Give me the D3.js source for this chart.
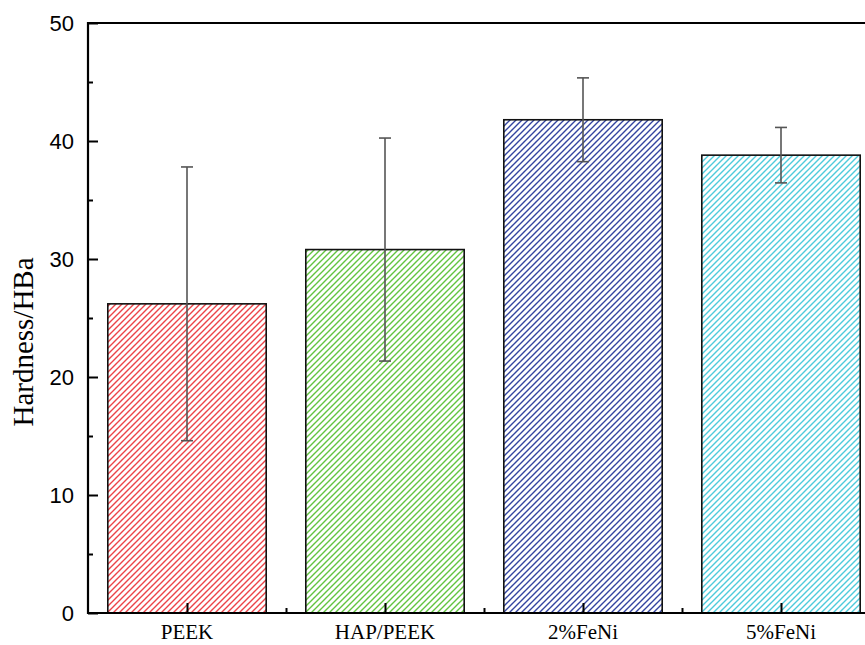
<!DOCTYPE html>
<html>
<head>
<meta charset="utf-8">
<script src="https://cdn.jsdelivr.net/npm/d3@7"></script>
<style>
  html, body { margin: 0; padding: 0; background: #fff; overflow: hidden; }
  svg { display: block; }
  .serif { font-family: "Liberation Serif", "Times New Roman", serif; }
  .sans { font-family: "Liberation Sans", Arial, sans-serif; }
</style>
</head>
<body>
<svg id="chart" width="865" height="645"></svg>
<script>
// Hardness of the four samples (mean and standard deviation)
const categories = ["PEEK", "HAP/PEEK", "2%FeNi", "5%FeNi"];
const hardness   = [26.2, 30.8, 41.8, 38.8];
const errors     = [11.6, 9.45, 3.55, 2.35];
const colors     = ["#ec4348", "#62c440", "#33449f", "#4ecbdb"];
const yTicks     = [0, 10, 20, 30, 40, 50];
const yMinor     = [5, 15, 25, 35, 45];

const svg = d3.select("#chart");
const margin = { left: 88, top: 23, bottom: 613 };

// x: category index scale; the frame runs slightly past the right edge
const x = d3.scaleLinear().domain([0.5, 4.5]).range([margin.left, 880]);
const y = d3.scaleLinear().domain([0, 50]).range([margin.bottom, margin.top]);
const barW = (x(1) - x(0)) * 0.8;

// diagonal hatch patterns, one per colour
const defs = svg.append("defs");
colors.forEach((c, i) => {
  const p = defs.append("pattern")
    .attr("id", "hatch" + i)
    .attr("patternUnits", "userSpaceOnUse")
    .attr("width", 6).attr("height", 6);
  p.append("path")
    .attr("d", "M-1,1 L1,-1 M0,6 L6,0 M5,7 L7,5")
    .attr("stroke", c)
    .attr("stroke-width", 1.4);
});

// bars
const data = categories.map((c, i) => ({ c, i, v: hardness[i], e: errors[i] }));
svg.append("g").selectAll("rect").data(data).join("rect")
  .attr("x", d => x(d.i + 1) - barW / 2)
  .attr("y", d => y(d.v))
  .attr("width", barW)
  .attr("height", d => y(0) - y(d.v))
  .attr("fill", d => `url(#hatch${d.i})`)
  .attr("stroke", "#111")
  .attr("stroke-width", 1.6);

// error bars
const eg = svg.append("g").attr("stroke", "#555").attr("stroke-width", 1.6);
data.forEach(d => {
  const cx = x(d.i + 1);
  eg.append("line").attr("x1", cx).attr("x2", cx).attr("y1", y(d.v + d.e)).attr("y2", y(d.v - d.e));
  eg.append("line").attr("x1", cx - 6).attr("x2", cx + 6).attr("y1", y(d.v + d.e)).attr("y2", y(d.v + d.e));
  eg.append("line").attr("x1", cx - 6).attr("x2", cx + 6).attr("y1", y(d.v - d.e)).attr("y2", y(d.v - d.e));
});

// y axis with inward ticks
const yAxis = svg.append("g")
  .attr("transform", `translate(${margin.left},0)`)
  .call(d3.axisRight(y).tickValues(yTicks).tickSize(10).tickFormat(""));
yAxis.select(".domain").remove();
yAxis.selectAll("line").attr("stroke", "#000").attr("stroke-width", 2);
const yMinorAxis = svg.append("g")
  .attr("transform", `translate(${margin.left},0)`)
  .call(d3.axisRight(y).tickValues(yMinor).tickSize(5).tickFormat(""));
yMinorAxis.select(".domain").remove();
yMinorAxis.selectAll("line").attr("stroke", "#000").attr("stroke-width", 2);

svg.append("g").selectAll("text").data(yTicks).join("text")
  .attr("class", "sans")
  .attr("x", 74)
  .attr("y", d => y(d))
  .attr("dy", "0.36em")
  .attr("text-anchor", "end")
  .attr("font-size", 22)
  .attr("fill", "#000")
  .text(d => d);

// x axis with inward ticks
const xAxis = svg.append("g")
  .attr("transform", `translate(0,${margin.bottom})`)
  .call(d3.axisTop(x).tickValues([1, 2, 3, 4]).tickSize(10).tickFormat(""));
xAxis.select(".domain").remove();
xAxis.selectAll("line").attr("stroke", "#000").attr("stroke-width", 2);
const xMinor = svg.append("g")
  .attr("transform", `translate(0,${margin.bottom})`)
  .call(d3.axisTop(x).tickValues([1.5, 2.5, 3.5]).tickSize(5).tickFormat(""));
xMinor.select(".domain").remove();
xMinor.selectAll("line").attr("stroke", "#000").attr("stroke-width", 2);

svg.append("g").selectAll("text").data(data).join("text")
  .attr("class", "serif")
  .attr("x", d => x(d.i + 1))
  .attr("y", 639)
  .attr("text-anchor", "middle")
  .attr("font-size", 21)
  .attr("fill", "#000")
  .text(d => d.c);

// frame lines
const frame = svg.append("g").attr("stroke", "#000").attr("stroke-width", 2.2).attr("fill", "none");
frame.append("line").attr("x1", margin.left).attr("x2", margin.left).attr("y1", y(50) - 1).attr("y2", y(0) + 1);
frame.append("line").attr("x1", margin.left - 1).attr("x2", 880).attr("y1", y(0)).attr("y2", y(0));
frame.append("line").attr("x1", margin.left - 1).attr("x2", 880).attr("y1", y(50)).attr("y2", y(50));

// y axis title
svg.append("text")
  .attr("class", "serif")
  .attr("transform", "translate(33,342) rotate(-90)")
  .attr("text-anchor", "middle")
  .attr("font-size", 29)
  .attr("fill", "#000")
  .text("Hardness/HBa");
</script>
</body>
</html>
